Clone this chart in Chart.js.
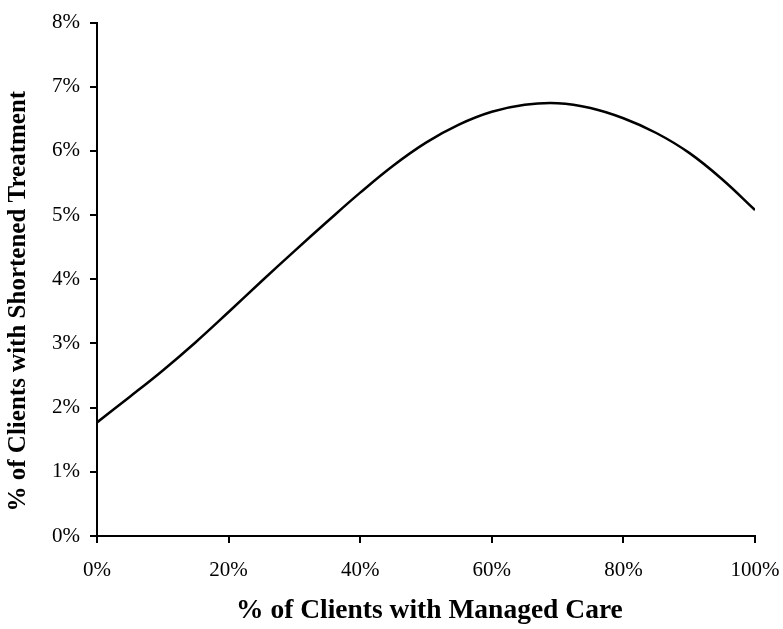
<!DOCTYPE html>
<html>
<head>
<meta charset="utf-8">
<script src="https://cdn.jsdelivr.net/npm/chart.js@4.4.0/dist/chart.umd.min.js"></script>
<style>
  html, body { margin: 0; padding: 0; background: #fff; }
  #wrap { width: 783px; height: 629px; }
</style>
</head>
<body>
<div id="wrap"><canvas id="grafico" width="783" height="629"></canvas></div>
<script>
// % de clientes com managed care (eixo x)
const managedCare = [0, 5, 10, 15, 20, 25, 30, 35, 40, 45, 50, 55, 60, 65, 70, 75, 80, 85, 90, 95, 100];
// % de clientes com tratamento encurtado (eixo y)
const shortened = [1.77, 2.17, 2.58, 3.02, 3.49, 3.97, 4.44, 4.90, 5.35, 5.77, 6.13, 6.41, 6.61, 6.72, 6.745, 6.67, 6.51, 6.28, 5.97, 5.56, 5.08];
const xTicks = [0, 20, 40, 60, 80, 100];
const yTicks = [0, 1, 2, 3, 4, 5, 6, 7, 8];

const fonte = "'Liberation Serif', 'Times New Roman', serif";

const pontos = managedCare.map((x, i) => ({ x: x, y: shortened[i] }));

new Chart(document.getElementById("grafico"), {
    type: "line",
    data: {
        datasets: [{
            data: pontos,
            borderColor: "#000",
            borderWidth: 2.5,
            pointRadius: 0,
            fill: false,
            tension: 0.4
        }]
    },
    options: {
        responsive: false,
        animation: false,
        layout: { padding: { top: 18, right: 28, bottom: 0, left: 0 } },
        plugins: { legend: { display: false }, tooltip: { enabled: false } },
        scales: {
            x: {
                type: "linear",
                min: 0,
                max: 100,
                afterBuildTicks: s => { s.ticks = xTicks.map(v => ({ value: v })); },
                afterFit: s => { s.height = 93; s.paddingLeft = 0; s.paddingRight = 0; },
                grid: { drawOnChartArea: false, drawTicks: true, tickLength: 7, color: "#000", lineWidth: 2 },
                border: { display: true, color: "#000", width: 2 },
                ticks: {
                    color: "#000",
                    padding: 15,
                    maxRotation: 0,
                    font: { family: fonte, size: 21 },
                    callback: v => v + "%"
                },
                title: {
                    display: true,
                    text: " % of Clients with Managed Care",
                    color: "#000",
                    font: { family: fonte, size: 27.5, weight: "bold" },
                    padding: { top: 0, bottom: 2 }
                }
            },
            y: {
                type: "linear",
                min: 0,
                max: 8,
                afterBuildTicks: s => { s.ticks = yTicks.map(v => ({ value: v })); },
                afterFit: s => { s.width = 97; },
                grid: { drawOnChartArea: false, drawTicks: true, tickLength: 7, color: "#000", lineWidth: 2 },
                border: { display: true, color: "#000", width: 2 },
                ticks: {
                    color: "#000",
                    padding: 10,
                    font: { family: fonte, size: 21 },
                    callback: v => v + "%"
                },
                title: {
                    display: true,
                    // espaços no fim empurram o título um pouco para baixo, como no original
                    text: "% of Clients with Shortened Treatment       ",
                    color: "#000",
                    font: { family: fonte, size: 25, weight: "bold" },
                    padding: { top: 4, bottom: 0 }
                }
            }
        }
    }
});
</script>
</body>
</html>
